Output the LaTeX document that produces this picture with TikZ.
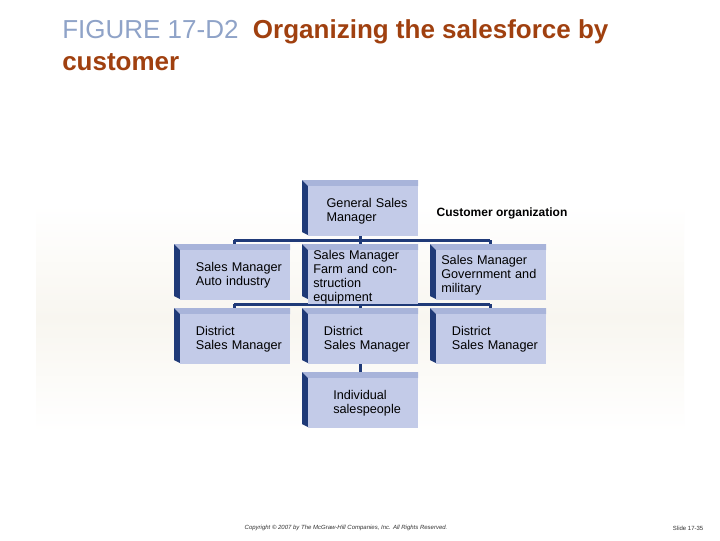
\documentclass[tikz,border=0pt]{standalone}
\usepackage{fontspec}
\setmainfont{Liberation Sans}
\begin{document}
\begin{tikzpicture}[x=0.75pt,y=-0.75pt]
\definecolor{boxc}{HTML}{C3CBE8}
\definecolor{topc}{HTML}{A8B4DA}
\definecolor{sidec}{HTML}{1F3A78}
\definecolor{navy}{HTML}{1F3A78}
\definecolor{titleb}{HTML}{8FA3C8}
\definecolor{titler}{HTML}{A0400F}
\tikzset{
 org/.style={fill=boxc, minimum width=110*0.75pt, minimum height=50*0.75pt, inner sep=0pt, anchor=north west, text width=100*0.75pt, align=left, font=\fontsize{9.5}{10.5}\selectfont},
 conn/.style={navy, line width=3*0.75pt}
}
\useasboundingbox (0,0) rectangle (720,540);
\fill[white] (0,0) rectangle (720,540);
\fill[top color=white, bottom color=white, middle color={rgb,255:red,248;green,246;blue,240}] (36,205) rectangle (684,432);
% title
\node[anchor=base west, inner sep=0pt, font=\fontsize{19.5}{23}\selectfont] (t1) at (62,38) {\textcolor{titleb}{FIGURE 17-D2}\ \ \textcolor{titler}{\bfseries Organizing the salesforce by}};
\node[anchor=base west, inner sep=0pt, font=\fontsize{19.5}{23}\selectfont\bfseries, text=titler] (t2) at (62,70) {customer};
% connectors
\draw[conn] (360,235) -- (360,240);
\draw[conn] (234,240) -- (490,240);
\draw[conn] (234,240) -- (234,246); \draw[conn] (360,240) -- (360,246); \draw[conn] (490,240) -- (490,246);
\draw[conn] (360,298) -- (360,304);
\draw[conn] (234,304) -- (490,304);
\draw[conn] (234,304) -- (234,310); \draw[conn] (360,304) -- (360,310); \draw[conn] (490,304) -- (490,310);
\draw[conn] (360,362) -- (360,374);
% boxes
\foreach \x/\y/\n in {302/180/g,174/244/a,302/244/b,430/244/c,174/308/d,302/308/e,430/308/f,302/372/h}{
 \fill[topc] (\x,\y) -- (\x+116,\y) -- (\x+116,\y+6) -- (\x+6,\y+6) -- cycle;
 \fill[sidec] (\x,\y) -- (\x+6,\y+6) -- (\x+6,\y+55) -- (\x,\y+52) -- cycle;
}
\node[org] (g) at (308,186) {\hspace*{10pt}General Sales\\\hspace*{10pt}Manager};
\node[org] (a) at (180,250) {\hspace*{8pt}Sales Manager\\\hspace*{8pt}Auto industry};
\node[org] (b) at (308,250) {Sales Manager\\Farm and construction\\equipment};
\node[org] (c) at (436,250) {Sales Manager\\Government and\\military};
\node[org] (d) at (180,314) {\hspace*{8pt}District\\\hspace*{8pt}Sales Manager};
\node[org] (e) at (308,314) {\hspace*{8pt}District\\\hspace*{8pt}Sales Manager};
\node[org] (f) at (436,314) {\hspace*{8pt}District\\\hspace*{8pt}Sales Manager};
\node[org] (h) at (308,378) {\hspace*{15pt}Individual\\\hspace*{15pt}salespeople};
\node[anchor=west, font=\fontsize{9}{10}\selectfont\bfseries] (lab) at (432,213) {Customer organization};
\node[anchor=west, font=\fontsize{4.5}{5}\selectfont\itshape, text=black!80] (cp) at (240,528) {Copyright © 2007 by The McGraw-Hill Companies, Inc. All Rights Reserved.};
\node[anchor=east, font=\fontsize{4.5}{5}\selectfont, text=black!80] (sl) at (708,528) {Slide 17-35};
\end{tikzpicture}
\end{document}
